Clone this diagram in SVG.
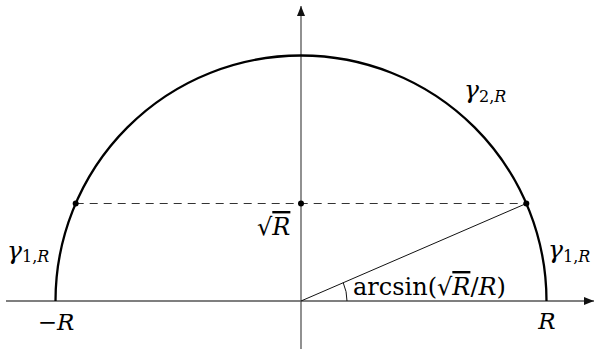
<svg xmlns="http://www.w3.org/2000/svg" width="596" height="349" viewBox="0 0 596 349">
<defs>
<marker id="arr" viewBox="0 0 10 8" refX="10" refY="4" markerWidth="10" markerHeight="8" markerUnits="userSpaceOnUse" orient="auto">
<path d="M0,0 L10,4 L0,8 Z" fill="#111"/>
</marker>
<style>
.axis{stroke:#555;stroke-width:1.3;fill:none}
.curve{stroke:#000;stroke-width:2.3;fill:none}
.thin{stroke:#111;stroke-width:1;fill:none}
.dash{stroke:#333;stroke-width:1;stroke-dasharray:8 6;fill:none}
.dot{fill:#000}
.t{font-family:"DejaVu Serif",serif;font-size:23px;fill:#000}
.g{font-size:25px}
.a{font-size:24px}
.i{font-style:italic}
.s{font-size:16px}
.ov{text-decoration:overline}
</style>
</defs>
<g id="connectors">
<line class="axis" x1="6" y1="301" x2="594" y2="301" marker-end="url(#arr)"/>
<line class="axis" x1="301" y1="349" x2="301" y2="6" marker-end="url(#arr)"/>
<line class="dash" x1="75.7" y1="203.5" x2="526.3" y2="203.5"/>
<line class="thin" x1="301" y1="301" x2="526.3" y2="203.5"/>
<path class="thin" d="M347,301 A46,46 0 0 0 343.2,282.7"/>
</g>
<g id="semicircle">
<path class="curve" d="M55.5,301 A245.5,245.5 0 0 1 546.5,301"/>
</g>
<g id="points">
<circle class="dot" cx="75.7" cy="203.5" r="3"/>
<circle class="dot" cx="301" cy="203.5" r="3"/>
<circle class="dot" cx="526.3" cy="203.5" r="3"/>
</g>
<g id="labels">
<text class="t" x="56" y="330" text-anchor="middle">−<tspan class="i">R</tspan></text>
<text class="t i" x="547" y="329" text-anchor="middle">R</text>
<g id="sqrtR">
<text class="t a" x="257" y="235">√<tspan class="i ov">R</tspan></text>
</g>
<g id="angle-label">
<text class="t a" x="353" y="295">arcsin(√<tspan class="i ov">R</tspan>/<tspan class="i">R</tspan>)</text>
</g>
<text class="t g i" x="7" y="259">γ<tspan class="s" font-style="normal" dy="3">1,</tspan><tspan class="s">R</tspan></text>
<text class="t g i" x="548" y="258">γ<tspan class="s" font-style="normal" dy="4">1,</tspan><tspan class="s">R</tspan></text>
<text class="t g i" x="464" y="98">γ<tspan class="s" font-style="normal" dy="4">2,</tspan><tspan class="s">R</tspan></text>
</g>
</svg>
